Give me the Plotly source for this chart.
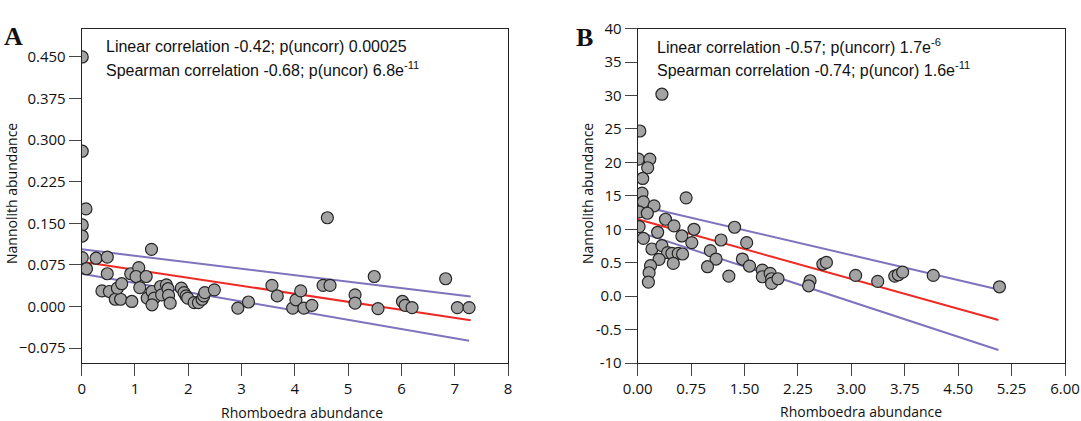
import plotly.graph_objects as go

# ---------------- data ----------------
a_x = [0.01, 0.01, 0.08, 0.01, 0.01, 0.01, 0.09, 0.27, 0.48, 0.48, 0.38, 0.52, 0.63, 0.73, 0.67, 0.75,
       0.94, 0.92, 1.07, 1.02, 1.09, 1.21, 1.31, 1.23, 1.32, 1.36, 1.32, 1.48, 1.50, 1.59, 1.62, 1.63,
       1.66, 1.87, 1.92, 1.96, 1.99, 2.11, 2.19, 2.26, 2.29, 2.31, 2.49, 2.93, 3.13, 3.57, 3.67, 3.96,
       4.02, 4.11, 4.17, 4.32, 4.53, 4.61, 4.66, 5.13, 5.13, 5.49, 5.56, 6.02, 6.07, 6.20, 6.83, 7.05, 7.27]
a_y = [0.450, 0.280, 0.176, 0.147, 0.127, 0.088, 0.068, 0.087, 0.089, 0.059, 0.028, 0.027, 0.013, 0.013, 0.033, 0.041,
       0.009, 0.059, 0.070, 0.054, 0.034, 0.054, 0.103, 0.015, 0.027, 0.015, 0.003, 0.036, 0.021, 0.039, 0.032, 0.020,
       0.006, 0.033, 0.025, 0.019, 0.015, 0.007, 0.007, 0.013, 0.019, 0.025, 0.030, -0.003, 0.008, 0.038, 0.019, -0.003,
       0.012, 0.028, -0.003, 0.002, 0.038, 0.160, 0.038, 0.021, 0.006, 0.054, -0.004, 0.009, 0.002, -0.002, 0.050, -0.002, -0.002]

a_fit_x = [0.0, 7.30]
a_fit_y = [0.0806, -0.0247]
a_up_x = [0.0, 7.30]
a_up_y = [0.103, 0.018]
a_lo_x = [0.0, 7.27]
a_lo_y = [0.059, -0.062]

b_x = [0.34, 0.03, 0.01, 0.17, 0.14, 0.07, 0.06, 0.68, 0.08, 0.23, 0.02, 0.135, 0.02, 0.08, 0.39, 0.51,
       0.28, 0.62, 0.79, 0.76, 1.17, 1.36, 1.53, 0.20, 0.34, 0.42, 0.48, 0.57, 0.63, 0.30, 0.50, 0.18,
       0.16, 0.15, 1.02, 1.10, 0.98, 1.28, 1.47, 1.57, 1.75, 1.75, 1.86, 1.88, 1.88, 1.97, 2.42, 2.40,
       2.60, 2.65, 3.06, 3.37, 3.61, 3.66, 3.72, 4.15, 5.08]
b_y = [30.2, 24.7, 20.5, 20.5, 19.2, 17.6, 15.4, 14.7, 14.1, 13.5, 12.6, 12.4, 10.4, 8.65, 11.5, 10.5,
       9.55, 9.0, 10.0, 8.0, 8.4, 10.3, 8.0, 7.05, 7.55, 6.5, 6.4, 6.4, 6.3, 5.5, 4.9, 4.55,
       3.5, 2.1, 6.8, 5.55, 4.4, 3.0, 5.55, 4.5, 3.9, 2.9, 3.4, 2.6, 1.9, 2.6, 2.3, 1.55,
       4.8, 5.05, 3.1, 2.2, 3.0, 3.2, 3.6, 3.1, 1.4]

b_fit_x = [0.0, 5.065]
b_fit_y = [11.5, -3.57]
b_up_x = [0.0, 5.065]
b_up_y = [13.6, 1.0]
b_lo_x = [0.0, 5.065]
b_lo_y = [9.65, -8.05]

a_xticks = [0, 1, 2, 3, 4, 5, 6, 7, 8]
a_yticks = [-0.075, 0.0, 0.075, 0.150, 0.225, 0.300, 0.375, 0.450]
b_xticks = [0.0, 0.75, 1.5, 2.25, 3.0, 3.75, 4.5, 5.25, 6.0]
b_yticks = [-10, -5, 0, 5, 10, 15, 20, 25, 30, 35, 40]
b_yticktext = ["-10", "-0.5", "0.0", "0.5", "10", "15", "20", "25", "30", "35", "40"]

a_text = ["Linear correlation -0.42; p(uncorr) 0.00025",
          "Spearman correlation -0.68; p(uncor) 6.8e<sup>-11</sup>"]
b_text = ["Linear correlation -0.57; p(uncorr) 1.7e<sup>-6</sup>",
          "Spearman correlation -0.74; p(uncor) 1.6e<sup>-11</sup>"]
x_title = "Rhomboedra abundance"
y_title = "Nannolith abundance"

# ---------------- style ----------------
W, H = 1081, 421
RED = "#ee2a24"
PURPLE = "#7d74bd"
MFILL = "#a3a3a3"
MLINE = "#262626"
TICKFONT = dict(family="Open Sans", size=15, color="#111")
TITLEFONT = dict(family="Open Sans", size=14, color="#111")
ANNFONT = dict(family="Liberation Sans, Arial", size=16, color="#111")


def px(v):
    return v / W


def py(v):
    return 1 - v / H


fig = go.Figure()


def add_panel(xs, ys, fits, xa, ya):
    for fx, fy, col in fits:
        fig.add_trace(go.Scatter(x=fx, y=fy, mode="lines", line=dict(color=col, width=2),
                                 xaxis=xa, yaxis=ya, showlegend=False, hoverinfo="skip"))
    fig.add_trace(go.Scatter(x=xs, y=ys, mode="markers",
                             marker=dict(size=12, color=MFILL, line=dict(color=MLINE, width=1.2)),
                             xaxis=xa, yaxis=ya, showlegend=False))


add_panel(a_x, a_y, [(a_up_x, a_up_y, PURPLE), (a_lo_x, a_lo_y, PURPLE), (a_fit_x, a_fit_y, RED)], "x", "y")
add_panel(b_x, b_y, [(b_up_x, b_up_y, PURPLE), (b_lo_x, b_lo_y, PURPLE), (b_fit_x, b_fit_y, RED)], "x2", "y2")

ax_common = dict(showgrid=False, zeroline=False, showline=True, linecolor="#222", linewidth=1,
                 mirror=True, ticks="outside", ticklen=12, tickwidth=1, tickcolor="#444",
                 tickfont=TICKFONT, automargin=False)

a_left, a_right = 81.7, 508.0
b_left, b_right = 637.7, 1065.0
top, bottom = 28.7, 363.0
ydom = [py(bottom), py(top)]

fig.update_layout(
    width=W, height=H, margin=dict(l=0, r=0, t=0, b=0),
    paper_bgcolor="white", plot_bgcolor="white",
    xaxis=dict(domain=[px(a_left), px(a_right)], range=[0, 8], tickvals=a_xticks, **ax_common),
    yaxis=dict(domain=ydom, range=[-0.102, 0.501], tickvals=a_yticks, tickformat=".3f", **ax_common),
    xaxis2=dict(domain=[px(b_left), px(b_right)], range=[0, 6], tickvals=b_xticks, tickformat=".2f",
                anchor="y2", **ax_common),
    yaxis2=dict(domain=ydom, range=[-10, 40], tickvals=b_yticks, ticktext=b_yticktext,
                anchor="x2", **ax_common),
)

anns = []
for xr, yr, texts, dx in [("x domain", "y domain", a_text, 0.053), ("x2 domain", "y2 domain", b_text, 0.040)]:
    for i, t in enumerate(texts):
        anns.append(dict(xref=xr, yref=yr, x=dx, y=[0.947, 0.880][i], text=t, showarrow=False,
                         xanchor="left", yanchor="middle", font=ANNFONT))
# axis titles
for cx, cy, yx in [(302, 412, 11), (861, 411, 587)]:
    anns.append(dict(xref="paper", yref="paper", x=px(cx), y=py(cy), text=x_title, showarrow=False,
                     xanchor="center", yanchor="middle", font=TITLEFONT))
    anns.append(dict(xref="paper", yref="paper", x=px(yx), y=py(194), text=y_title,
                     showarrow=False, textangle=-90, xanchor="center", yanchor="middle", font=TITLEFONT))
# panel letters
for lab, lx, ly in [("A", 13, 37), ("B", 584.5, 38)]:
    anns.append(dict(xref="paper", yref="paper", x=px(lx), y=py(ly), text="<b>%s</b>" % lab,
                     showarrow=False, xanchor="center", yanchor="middle",
                     font=dict(family="Liberation Serif", size=26, color="#111")))
fig.update_layout(annotations=anns)

fig.write_html("out.html", config={"displayModeBar": False},
               post_script="document.body.style.margin='0';document.body.style.overflow='hidden';")
